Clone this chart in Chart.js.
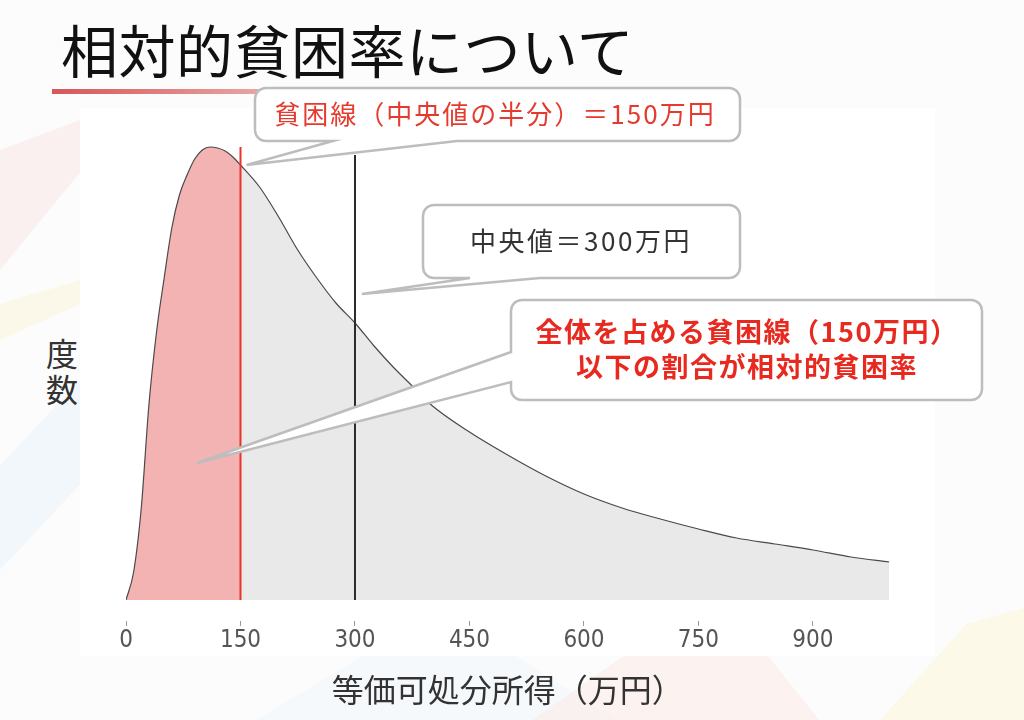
<!DOCTYPE html>
<html lang="ja">
<head>
<meta charset="utf-8">
<script src="https://cdn.jsdelivr.net/npm/chart.js@4.4.1/dist/chart.umd.min.js"></script>
<style>
  html, body { margin: 0; padding: 0; }
  body {
    width: 1024px; height: 720px; position: relative; overflow: hidden;
    background: #fcfcfc; font-family: "Noto Sans CJK JP", sans-serif;
  }
  .deco { position: absolute; opacity: .55; }
  #panel { position: absolute; left: 80px; top: 108px; width: 855px; height: 548px; background: #fff; }
  #title { position: absolute; left: 61px; top: 8px; font-size: 57px; line-height: 80px; letter-spacing: 0.5px;
           color: #111; white-space: nowrap; }
  #rule { position: absolute; left: 52px; top: 89px; width: 206px; height: 5px;
          background: linear-gradient(to right, #d65757, #e9a3a3); }
  #ylabel { position: absolute; left: 44px; top: 334px; width: 36px; font-size: 32px; line-height: 36px;
            color: #333; text-align: center; }
  #c { position: absolute; left: 0; top: 0; }
</style>
</head>
<body>
<div class="deco" style="left:0;top:120px;width:80px;height:150px;background:#f9e6e6;clip-path:polygon(0 20%,100% 0,100% 35%,0 100%)"></div>
<div class="deco" style="left:0;top:280px;width:80px;height:60px;background:#fbf4d8;clip-path:polygon(0 40%,100% 0,100% 40%,0 100%)"></div>
<div class="deco" style="left:0;top:380px;width:80px;height:190px;background:#eaf3fb;clip-path:polygon(0 45%,100% 0,100% 55%,0 100%)"></div>
<div class="deco" style="left:0;top:640px;width:1024px;height:80px;background:#eef5fb;clip-path:polygon(25% 100%,38% 0,48% 0,60% 100%)"></div>
<div class="deco" style="left:0;top:640px;width:1024px;height:80px;background:#fbe9e6;clip-path:polygon(52% 100%,62% 10%,75% 20%,80% 100%)"></div>
<div class="deco" style="left:880px;top:560px;width:144px;height:160px;background:#fbf5d9;clip-path:polygon(0 100%,60% 40%,100% 30%,100% 100%)"></div>
<div id="panel"></div>
<div id="title">相対的貧困率について</div>
<div id="rule"></div>
<div id="ylabel">度<br>数</div>
<canvas id="c" width="1024" height="720"></canvas>
<script>
// income (万円) and density (arbitrary units)
const incomes = [0, 10, 20, 30, 40, 50, 60, 70, 80, 90, 100, 110, 120, 130, 140, 150,
  175, 200, 225, 250, 275, 300, 325, 350, 375, 400, 450, 500, 550, 600, 650, 700,
  750, 800, 850, 900, 950, 1000];
const density = [0, 28, 92, 195, 268, 322, 372, 405, 425, 441, 450, 453, 452, 449, 443, 435,
  413, 383, 350, 322, 297, 277, 254, 233, 214, 195, 168, 145, 124, 106, 92, 81,
  71, 62, 56, 50, 43, 38];
const xTicks = [0, 150, 300, 450, 600, 750, 900];

const POVERTY_LINE = 150;
const MEDIAN = 300;
const POVERTY_TOP = 453;
const MEDIAN_TOP = 445;

const callouts = [
  {
    lines: ["貧困線（中央値の半分）＝150万円"],
    box: { x: 255, y: 88, w: 485, h: 53 }, side: "bottom", base: [333, 457],
    tipX: 158, tipY: 435,
    cx: 495, cy: 114, lh: 0,
    font: "26px 'Noto Sans CJK JP'", color: "#e53b2f", spacing: "2px",
  },
  {
    lines: ["中央値＝300万円"],
    box: { x: 423, y: 205, w: 317, h: 73 }, side: "bottom", base: [470, 540],
    tipX: 309, tipY: 306,
    cx: 581, cy: 241, lh: 0,
    font: "26px 'Noto Sans CJK JP'", color: "#333", spacing: "2.5px",
  },
  {
    lines: ["全体を占める貧困線（150万円）", "以下の割合が相対的貧困率"],
    box: { x: 511, y: 300, w: 471, h: 100 }, side: "left", base: [352, 382],
    tipX: 93, tipY: 137,
    cx: 747, cy: 349, lh: 35,
    font: "bold 27px 'Noto Sans CJK JP'", color: "#e8291f", spacing: "1.5px",
  },
];

const points = incomes.map((v, i) => ({ x: v, y: density[i] }));
const below = points.filter((p) => p.x <= POVERTY_LINE);
const above = points.filter((p) => p.x >= POVERTY_LINE);

function bubblePath(ctx, b, side, base, tip) {
  const { x, y, w, h } = b;
  const r = 11;
  ctx.beginPath();
  ctx.moveTo(x + r, y);
  ctx.lineTo(x + w - r, y);
  ctx.arcTo(x + w, y, x + w, y + r, r);
  ctx.lineTo(x + w, y + h - r);
  ctx.arcTo(x + w, y + h, x + w - r, y + h, r);
  if (side === "bottom") {
    ctx.lineTo(base[1], y + h);
    ctx.lineTo(tip[0], tip[1]);
    ctx.lineTo(base[0], y + h);
  }
  ctx.lineTo(x + r, y + h);
  ctx.arcTo(x, y + h, x, y + h - r, r);
  if (side === "left") {
    ctx.lineTo(x, base[1]);
    ctx.lineTo(tip[0], tip[1]);
    ctx.lineTo(x, base[0]);
  }
  ctx.lineTo(x, y + r);
  ctx.arcTo(x, y, x + r, y, r);
  ctx.closePath();
}

const calloutPlugin = {
  id: "callouts",
  afterDatasetsDraw(chart) {
    const { ctx } = chart;
    const xs = chart.scales.x, ys = chart.scales.y;
    callouts.forEach((c) => {
      const tip = [xs.getPixelForValue(c.tipX), ys.getPixelForValue(c.tipY)];
      ctx.save();
      bubblePath(ctx, c.box, c.side, c.base, tip);
      ctx.fillStyle = "#fff";
      ctx.fill();
      ctx.lineWidth = 2.5;
      ctx.strokeStyle = "#bdbdbd";
      ctx.stroke();
      ctx.fillStyle = c.color;
      ctx.font = c.font;
      ctx.textAlign = "center";
      ctx.textBaseline = "middle";
      ctx.letterSpacing = c.spacing;
      const n = c.lines.length;
      c.lines.forEach((t, i) => {
        ctx.fillText(t, c.cx, c.cy + (i - (n - 1) / 2) * c.lh);
      });
      ctx.restore();
    });
  },
};

const curveStyle = { pointRadius: 0, cubicInterpolationMode: "monotone" };

new Chart(document.getElementById("c"), {
  type: "line",
  data: {
    datasets: [
      { data: [{ x: POVERTY_LINE, y: 0 }, { x: POVERTY_LINE, y: POVERTY_TOP }],
        borderColor: "#e8342a", borderWidth: 2, pointRadius: 0, order: 0 },
      { data: [{ x: MEDIAN, y: 0 }, { x: MEDIAN, y: MEDIAN_TOP }],
        borderColor: "#2b2b2b", borderWidth: 2, pointRadius: 0, order: 0 },
      { data: points, borderColor: "#4a4a4a", borderWidth: 1.2, fill: false, order: 1, ...curveStyle },
      { data: below, borderWidth: 0, borderColor: "rgba(0,0,0,0)", backgroundColor: "#f3b3b3",
        fill: "origin", order: 3, ...curveStyle },
      { data: above, borderWidth: 0, borderColor: "rgba(0,0,0,0)", backgroundColor: "#e9e9e9",
        fill: "origin", order: 3, ...curveStyle },
    ],
  },
  options: {
    responsive: false,
    animation: false,
    layout: { padding: { left: 126, right: 134.7, top: 130, bottom: 0 } },
    plugins: { legend: { display: false }, tooltip: { enabled: false } },
    scales: {
      x: {
        type: "linear", min: 0, max: 1000,
        afterBuildTicks: (s) => { s.ticks = xTicks.map((v) => ({ value: v })); },
        afterFit: (s) => { s.height = 99; },
        border: { display: false },
        grid: { drawOnChartArea: false, drawTicks: true, tickLength: 5, color: "#9a9a9a" },
        ticks: {
          padding: 0, color: "#555", autoSkip: false, maxRotation: 0,
          font: { family: "'Liberation Sans Narrow', 'DejaVu Sans Condensed', sans-serif", size: 24 },
        },
        title: {
          display: true, text: "等価可処分所得（万円）", color: "#333",
          font: { family: "'Noto Sans CJK JP'", size: 32 },
          padding: { top: 0, bottom: 11 },
        },
      },
      y: { display: false, min: -21, max: 470 },
    },
  },
  plugins: [calloutPlugin],
});
</script>
</body>
</html>
